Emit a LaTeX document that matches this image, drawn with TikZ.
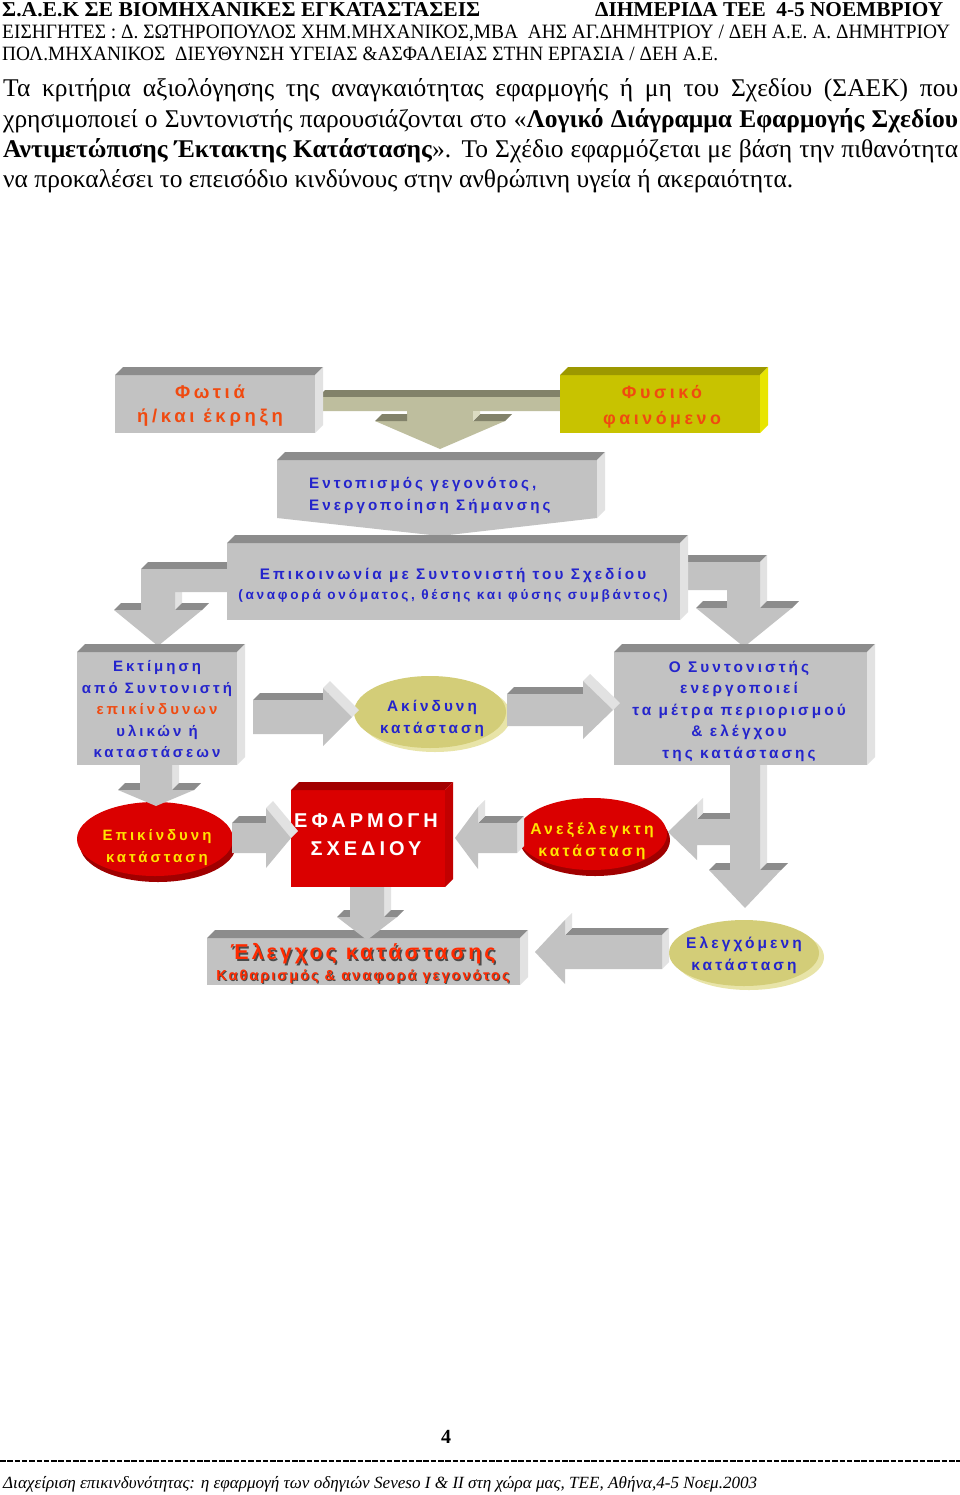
\documentclass[tikz,border=0pt]{standalone}
\usepackage{fontspec}
\usepackage{graphicx}
\usetikzlibrary{shapes.geometric}
\setmainfont{Liberation Serif}
\newfontfamily\dsans[LetterSpace=20]{Liberation Sans}
\newfontfamily\dsansn[LetterSpace=14]{Liberation Sans}
\definecolor{gF}{HTML}{C2C2C2}
\definecolor{gT}{HTML}{8C8C8C}
\definecolor{gS}{HTML}{E2E2E2}
\definecolor{kF}{HTML}{BEBE9E}
\definecolor{kT}{HTML}{82826A}
\definecolor{kS}{HTML}{DCDCC2}
\definecolor{yF}{HTML}{C8C300}
\definecolor{yT}{HTML}{9C9800}
\definecolor{yS}{HTML}{E8E500}
\definecolor{rF}{HTML}{DA0000}
\definecolor{rT}{HTML}{A20000}
\definecolor{rS}{HTML}{C20000}
\definecolor{rD}{HTML}{A00000}
\definecolor{oF}{HTML}{D3CD78}
\definecolor{oS}{HTML}{E8E4A8}
\definecolor{txtO}{HTML}{F04A10}
\definecolor{txtB}{HTML}{2424CC}
\definecolor{txtY}{HTML}{FFE400}
\definecolor{txtR}{HTML}{FF2A00}
\definecolor{shd}{HTML}{4A4A4A}
\newcommand\bevel[4]{%
 \fill[#3] (#1.north west) -- ([shift={(#2,-#2)}]#1.north west) -- ([shift={(#2,-#2)}]#1.north east) -- (#1.north east) -- cycle;
 \fill[#4] (#1.north east) -- ([shift={(#2,-#2)}]#1.north east) -- ([shift={(#2,-#2)}]#1.south east) -- (#1.south east) -- cycle;}
% right arrow: tail x1, head base x2, tip xt, yc, hs, hh, d
\newcommand\barR[7]{%
 \fill[gT] (#1,#4-#5) -- (#1+#7,#4-#5-#7) -- (#2+#7,#4-#5-#7) -- (#2,#4-#5) -- cycle;
 \fill[gS] (#2,#4-#6) -- (#2+#7,#4-#6-#7) -- (#3+#7,#4-#7) -- (#3,#4) -- cycle;
 \fill[gF] (#1,#4-#5) -- (#2,#4-#5) -- (#2,#4-#6) -- (#3,#4) -- (#2,#4+#6) -- (#2,#4+#5) -- (#1,#4+#5) -- cycle;}
% left arrow: tail x1, head base x2, tip xt, yc, hs, hh, d
\newcommand\barL[7]{%
 \fill[gT] (#2,#4-#5) -- (#2+#7,#4-#5-#7) -- (#1+#7,#4-#5-#7) -- (#1,#4-#5) -- cycle;
 \fill[gS] (#1,#4-#5) -- (#1+#7,#4-#5-#7) -- (#1+#7,#4+#5-#7) -- (#1,#4+#5) -- cycle;
 \fill[gS] (#3,#4) -- (#3+#7,#4-#7) -- (#2+#7,#4-#6-#7) -- (#2,#4-#6) -- cycle;
 \fill[gS] (#2,#4-#6) -- (#2+#7,#4-#6-#7) -- (#2+#7,#4-#5-#7) -- (#2,#4-#5) -- cycle;
 \fill[gF] (#1,#4-#5) -- (#2,#4-#5) -- (#2,#4-#6) -- (#3,#4) -- (#2,#4+#6) -- (#2,#4+#5) -- (#1,#4+#5) -- cycle;}
% down arrow: xl, xr, y1, y2 (head base), hw, yt, d
\newcommand\barD[7]{%
 \fill[gS] (#2,#3) -- (#2+#7,#3) -- (#2+#7,#4-#7) -- (#2,#4) -- cycle;
 \fill[gT] ({(#1+#2)/2-#5},#4) -- ({(#1+#2)/2-#5+#7},#4-#7) -- (#1+#7,#4-#7) -- (#1,#4) -- cycle;
 \fill[gT] (#2,#4) -- (#2+#7,#4-#7) -- ({(#1+#2)/2+#5+#7},#4-#7) -- ({(#1+#2)/2+#5},#4) -- cycle;
 \fill[gF] (#1,#3) -- (#2,#3) -- (#2,#4) -- ({(#1+#2)/2+#5},#4) -- ({(#1+#2)/2},#6) -- ({(#1+#2)/2-#5},#4) -- (#1,#4) -- cycle;}
\tikzset{
 shapebox/.style={inner sep=0pt, outer sep=0pt},
 lbl/.style={inner sep=0pt, align=center},
}
\begin{document}
\begin{tikzpicture}[x=1pt,y=-1pt]
\useasboundingbox (0,0) rectangle (960,1495);
\fill[white] (0,0) rectangle (960,1495);
% header
\node[anchor=base west, inner sep=0] (h1) at (2,17) {\resizebox{478pt}{14pt}{\bfseries Σ.Α.Ε.Κ ΣΕ ΒΙΟΜΗΧΑΝΙΚΕΣ ΕΓΚΑΤΑΣΤΑΣΕΙΣ}};
\node[anchor=base west, inner sep=0] (h1b) at (595,17) {\resizebox{348pt}{14pt}{\bfseries ΔΙΗΜΕΡΙΔΑ ΤΕΕ\ \ 4-5 ΝΟΕΜΒΡΙΟΥ}};
\node[anchor=base west, inner sep=0] (h2) at (2,39) {\resizebox{948pt}{13.5pt}{ΕΙΣΗΓΗΤΕΣ : Δ. ΣΩΤΗΡΟΠΟΥΛΟΣ ΧΗΜ.ΜΗΧΑΝΙΚΟΣ,ΜΒΑ\ \ ΑΗΣ ΑΓ.ΔΗΜΗΤΡΙΟΥ / ΔΕΗ Α.Ε. Α. ΔΗΜΗΤΡΙΟΥ}};
\node[anchor=base west, inner sep=0] (h3) at (2,61) {\resizebox{716pt}{13.5pt}{ΠΟΛ.ΜΗΧΑΝΙΚΟΣ\ \ ΔΙΕΥΘΥΝΣΗ ΥΓΕΙΑΣ \&ΑΣΦΑΛΕΙΑΣ ΣΤΗΝ ΕΡΓΑΣΙΑ / ΔΕΗ Α.Ε.}};
% paragraph
\node[anchor=base west, inner sep=0] (p1) at (3,97) {\fontsize{25.5}{30}\selectfont\makebox[955pt][s]{Τα κριτήρια αξιολόγησης της αναγκαιότητας εφαρμογής ή μη του Σχεδίου (ΣΑΕΚ) που}};
\node[anchor=base west, inner sep=0] (p2) at (3,128) {\fontsize{25.5}{30}\selectfont\makebox[955pt][s]{χρησιμοποιεί ο Συντονιστής παρουσιάζονται στο «\textbf{Λογικό Διάγραμμα Εφαρμογής Σχεδίου}}};
\node[anchor=base west, inner sep=0] (p3) at (3,158) {\fontsize{25.5}{30}\selectfont\makebox[955pt][s]{\textbf{Αντιμετώπισης Έκτακτης Κατάστασης}». Το Σχέδιο εφαρμόζεται με βάση την πιθανότητα}};
\node[anchor=base west, inner sep=0] (p4) at (3,188) {\fontsize{25.5}{30}\selectfont να προκαλέσει το επεισόδιο κινδύνους στην ανθρώπινη υγεία ή ακεραιότητα.};

% top khaki connector
\fill[kT] (318,397) -- (325,390) -- (565,390) -- (565,397) -- cycle;
\fill[kF] (318,397) -- (565,397) -- (565,411) -- (473,411) -- (473,421) -- (505,421) -- (440,449) -- (375,421) -- (407,421) -- (407,411) -- (318,411) -- cycle;
\fill[kT] (375,421) -- (382,414) -- (407,414) -- (407,421) -- cycle;
\fill[kT] (473,421) -- (480,414) -- (512,414) -- (505,421) -- cycle;
\fill[kS] (473,411) -- (480,411) -- (480,414) -- (473,421) -- cycle;
% Fotia box
\node[shapebox, fill=gF, minimum width=200, minimum height=58] (fotia) at (215,404) {};
\bevel{fotia}{8}{gT}{gS}
% Fysiko box
\node[shapebox, fill=yF, minimum width=200, minimum height=58] (fysiko) at (660,404) {};
\bevel{fysiko}{8}{yT}{yS}
% Entopismos
\node[shapebox, fill=gF, minimum width=320, minimum height=58] (entop) at (437,489) {};
\fill[gF] (entop.south west) -- (entop.south east) -- (440,536) -- cycle;
\bevel{entop}{8}{gT}{gS}
% bent arrows from Epikoinonia
\fill[gT] (141,569) -- (148,562) -- (230,562) -- (230,569) -- cycle;
\fill[gS] (175,592) -- (182,592) -- (182,603) -- (175,610) -- cycle;
\fill[gT] (114,610) -- (121,603) -- (141,603) -- (141,610) -- cycle;
\fill[gT] (175,610) -- (182,603) -- (209,603) -- (202,610) -- cycle;
\fill[gF] (230,569) -- (141,569) -- (141,610) -- (114,610) -- (158,646) -- (202,610) -- (175,610) -- (175,592) -- (230,592) -- cycle;
\fill[gT] (680,562) -- (687,555) -- (767,555) -- (760,562) -- cycle;
\fill[gS] (760,562) -- (767,555) -- (767,601) -- (760,608) -- cycle;
\fill[gT] (696,608) -- (703,601) -- (727,601) -- (727,608) -- cycle;
\fill[gT] (760,608) -- (767,601) -- (799,601) -- (792,608) -- cycle;
\fill[gF] (680,562) -- (760,562) -- (760,608) -- (792,608) -- (744,647) -- (696,608) -- (727,608) -- (727,590) -- (680,590) -- cycle;
% Epikoinonia
\node[shapebox, fill=gF, minimum width=453, minimum height=77] (epik) at (453.5,581.5) {};
\bevel{epik}{8}{gT}{gS}
% Ektimisi and Syntonistis
\node[shapebox, fill=gF, minimum width=160, minimum height=113] (ektim) at (157,708.5) {};
\bevel{ektim}{8}{gT}{gS}
\node[shapebox, fill=gF, minimum width=253, minimum height=113] (synt) at (740.5,708.5) {};
\bevel{synt}{8}{gT}{gS}
% ellipses
\fill[oS] (435,716) ellipse [x radius=76pt, y radius=36pt];
\node[ellipse, shapebox, fill=oF, minimum width=152, minimum height=72] (akin) at (430,712) {};
\fill[rD] (158,845) ellipse [x radius=78pt, y radius=37pt];
\node[ellipse, shapebox, fill=rF, minimum width=156, minimum height=74] (epikin) at (155,839) {};
\fill[rD] (595,840) ellipse [x radius=75pt, y radius=36pt];
\node[ellipse, shapebox, fill=rF, minimum width=150, minimum height=72] (anex) at (592,834) {};
\fill[oS] (749,957) ellipse [x radius=75pt, y radius=33pt];
\node[ellipse, shapebox, fill=oF, minimum width=150, minimum height=66] (elegx) at (744,953) {};
% Efarmogi box
\node[shapebox, fill=rF, minimum width=154, minimum height=97] (efarm) at (368,838.5) {};
\bevel{efarm}{8}{rT}{rS}
% Elegxos box
\node[shapebox, fill=gF, minimum width=313, minimum height=47] (elbox) at (363.5,961.5) {};
\bevel{elbox}{8}{gT}{gS}
% straight arrows
\barR{253}{323}{352}{717}{17}{29}{7}
\barR{507}{583}{613}{710}{16}{29}{7}
\barR{232}{266}{291}{838}{15}{30}{7}
\barL{517}{478}{455}{838}{15}{31}{7}
\barL{730}{697}{668}{832}{13}{28}{6}
\barD{730}{760}{765}{870}{36}{908}{7}
\barD{140}{172}{765}{790}{38}{806}{7}
\barD{350}{384}{887}{917}{30}{940}{7}
\barL{662}{565}{535}{952}{17}{32}{7}
% texts
\node[lbl, text=txtO, font={\dsans\bfseries\fontsize{18.5}{24}\selectfont}] (fotiaT) at (210,406) {Φωτιά\\ή/και έκρηξη};
\node[lbl, text=txtO, font={\dsans\bfseries\fontsize{17.8}{26}\selectfont}] (fysikoT) at (662,407) {Φυσικό\\φαινόμενο};
\node[inner sep=0pt, align=left, anchor=west, text=txtB, font={\dsans\bfseries\fontsize{15.2}{22}\selectfont}] (entopT) at (309,495) {Εντοπισμός γεγονότος,\\Ενεργοποίηση Σήμανσης};
\node[lbl, text=txtB, font={\dsans\bfseries\fontsize{15.3}{20}\selectfont}] (epikT) at (453,585.5) {Επικοινωνία με Συντονιστή του Σχεδίου\\{\fontsize{13.6}{20}\selectfont (αναφορά ονόματος, θέσης και φύσης συμβάντος)}};
\node[lbl, text=txtB, font={\dsans\bfseries\fontsize{15}{21.5}\selectfont}] (ektimT) at (157,709.5) {Εκτίμηση\\από Συντονιστή\\\textcolor{txtO}{επικίνδυνων}\\υλικών ή\\καταστάσεων};
\node[lbl, text=txtB, font={\dsans\bfseries\fontsize{15.4}{21.5}\selectfont}] (syntT) at (739,711) {Ο Συντονιστής\\ενεργοποιεί\\τα μέτρα περιορισμού\\\& ελέγχου\\της κατάστασης};
\node[lbl, text=txtB, font={\dsans\bfseries\fontsize{15.3}{22}\selectfont}] (akinT) at (432,718) {Ακίνδυνη\\κατάσταση};
\node[lbl, text=txtY, font={\dsans\bfseries\fontsize{15}{22}\selectfont}] (epikinT) at (157,848) {Επικίνδυνη\\κατάσταση};
\node[lbl, text=txtY, font={\dsans\bfseries\fontsize{15.8}{22}\selectfont}] (anexT) at (592,841) {Ανεξέλεγκτη\\κατάσταση};
\node[lbl, text=white, font={\dsans\bfseries\fontsize{20}{28}\selectfont}] (efarmT) at (366,835) {ΕΦΑΡΜΟΓΗ\\ΣΧΕΔΙΟΥ};
\node[lbl, text=txtB, font={\dsans\bfseries\fontsize{15.5}{22}\selectfont}] (elegxT) at (744,955) {Ελεγχόμενη\\κατάσταση};
\node[lbl, text=shd, font={\dsansn\bfseries\fontsize{21.5}{21.5}\selectfont}] (el1s) at (364.5,955.5) {Έλεγχος κατάστασης};
\node[lbl, text=txtR, font={\dsansn\bfseries\fontsize{21.5}{21.5}\selectfont}] (el1) at (363,954) {Έλεγχος κατάστασης};
\node[lbl, text=shd, font={\dsansn\bfseries\fontsize{14.5}{14.5}\selectfont}] (el2s) at (364,978) {Καθαρισμός \& αναφορά γεγονότος};
\node[lbl, text=txtR, font={\dsansn\bfseries\fontsize{14.5}{14.5}\selectfont}] (el2) at (363,977) {Καθαρισμός \& αναφορά γεγονότος};
% footer
\node[anchor=base, inner sep=0] (pnum) at (446,1443) {\fontsize{20}{20}\selectfont\bfseries 4};
\coordinate (dl) at (0,1461);
\coordinate (dr) at (960,1461);
\draw[line width=2pt, dash pattern=on 5.5pt off 1.8pt] (dl) -- (dr);
\node[anchor=base west, inner sep=0] (foot) at (3,1488) {\resizebox{754pt}{!}{\itshape\fontsize{18}{18}\selectfont Διαχείριση επικινδυνότητας: η εφαρμογή των οδηγιών Seveso I \& II στη χώρα μας, ΤΕΕ, Αθήνα,4-5 Νοεμ.2003}};
\end{tikzpicture}
\end{document}
